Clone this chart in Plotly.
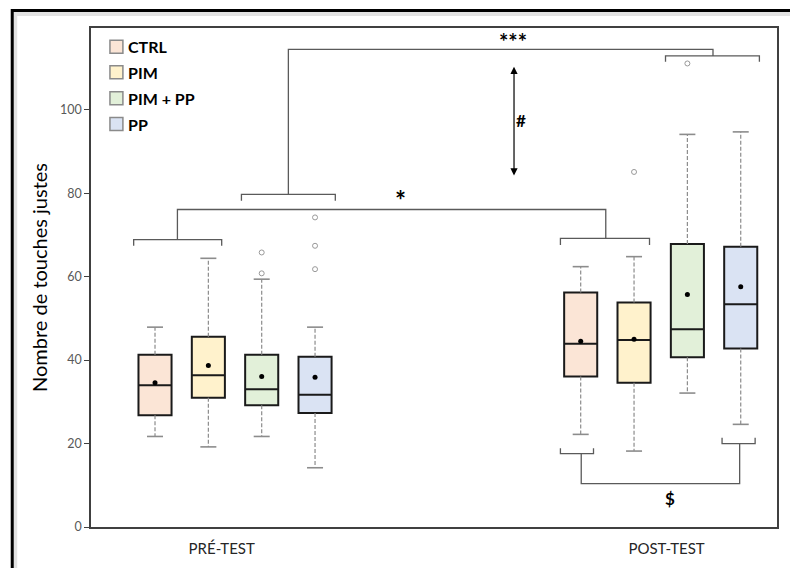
import plotly.graph_objects as go

# ---------------- data ----------------
groups = ["CTRL", "PIM", "PIM + PP", "PP"]
phases = ["PRÉ-TEST", "POST-TEST"]

# per group: [pre, post]
lower_whisker = [[21.7, 22.2], [19.2, 18.2], [21.7, 32.1], [14.2, 24.6]]
q1_values     = [[26.8, 36.1], [31.0, 34.6], [29.2, 40.7], [27.3, 42.8]]
median_values = [[34.0, 43.9], [36.4, 44.8], [33.0, 47.4], [31.7, 53.4]]
q3_values     = [[41.3, 56.2], [45.6, 53.8], [41.3, 67.8], [40.8, 67.2]]
upper_whisker = [[47.9, 62.4], [64.4, 64.8], [59.4, 94.1], [47.9, 94.7]]
mean_values   = [[34.6, 44.5], [38.7, 45.0], [36.1, 55.7], [35.9, 57.6]]
outliers      = [[[], []], [[], [85.1]], [[60.8, 65.8], [111.1]], [[61.8, 67.4, 74.2], []]]

y_ticks = [0, 20, 40, 60, 80, 100]
sig_labels = ["*", "***", "#", "$"]

# ---------------- layout / style ----------------
fills = ["#FBE5D6", "#FFF2CC", "#E2F0D9", "#DAE3F3"]
box_pos = [[1.2, 9.18], [2.2, 10.18], [3.2, 11.18], [4.2, 12.18]]
phase_pos = [2.45, 10.79]
box_w = 0.62
cap_w = 0.30
X_RANGE = [0, 12.86]
Y_RANGE = [0, 119.6]
FONT = "Lato, 'Open Sans', sans-serif"
BR = "#5a5a5a"

fig = go.Figure()

for g in range(len(groups)):
    xs = box_pos[g]
    fig.add_trace(go.Box(
        x=xs, q1=q1_values[g], median=median_values[g], q3=q3_values[g],
        lowerfence=q1_values[g], upperfence=q3_values[g],
        width=box_w, whiskerwidth=0, boxpoints=False,
        fillcolor=fills[g], line=dict(color="#1a1a1a", width=2),
        name=groups[g], showlegend=False, hoverinfo="skip"))
    # dashed whiskers
    wx, wy = [], []
    cx, cy = [], []
    for p in range(2):
        x = xs[p]
        wx += [x, x, None, x, x, None]
        wy += [q1_values[g][p], lower_whisker[g][p], None,
               q3_values[g][p], upper_whisker[g][p], None]
        for v in (lower_whisker[g][p], upper_whisker[g][p]):
            cx += [x - cap_w / 2, x + cap_w / 2, None]
            cy += [v, v, None]
    fig.add_trace(go.Scatter(x=wx, y=wy, mode="lines",
                             line=dict(color="#8c8c8c", width=1.2, dash="4px,2px"),
                             showlegend=False, hoverinfo="skip"))
    fig.add_trace(go.Scatter(x=cx, y=cy, mode="lines",
                             line=dict(color="#8c8c8c", width=1.6),
                             showlegend=False, hoverinfo="skip"))
    # means
    fig.add_trace(go.Scatter(x=xs, y=mean_values[g], mode="markers",
                             marker=dict(color="black", size=5),
                             showlegend=False, hoverinfo="skip"))
    # outliers
    ox, oy = [], []
    for p in range(2):
        for v in outliers[g][p]:
            ox.append(xs[p]); oy.append(v)
    if ox:
        fig.add_trace(go.Scatter(x=ox, y=oy, mode="markers",
                                 marker=dict(symbol="circle-open", color="#999999",
                                             size=5, line=dict(width=1)),
                                 showlegend=False, hoverinfo="skip"))

# ---------------- significance brackets ----------------
segments = [
    # pre bracket (CTRL..PIM) and post bracket (CTRL..PIM)
    ([0.80, 0.80, 2.45, 2.45], [67.4, 68.9, 68.9, 67.4]),
    ([8.80, 8.80, 10.47, 10.47], [67.6, 69.2, 69.2, 67.6]),
    ([1.62, 1.62, 9.65, 9.65], [68.9, 76.1, 76.1, 69.2]),
    # upper bracket (pre PIM+PP..PP) -> post (PIM+PP..PP)
    ([2.82, 2.82, 4.58, 4.58], [78.2, 79.7, 79.7, 78.2]),
    ([10.77, 10.77, 12.53, 12.53], [111.5, 112.9, 112.9, 111.5]),
    ([3.70, 3.70, 11.66, 11.66], [79.7, 114.5, 114.5, 112.9]),
    # bottom $ bracket
    ([8.80, 8.80, 9.42, 9.42], [18.9, 17.6, 17.6, 18.9]),
    ([11.83, 11.83, 12.45, 12.45], [21.4, 20.0, 20.0, 21.4]),
    ([9.19, 9.19, 12.16, 12.16], [17.6, 10.4, 10.4, 20.0]),
]
for sx, sy in segments:
    fig.add_trace(go.Scatter(x=sx, y=sy, mode="lines",
                             line=dict(color=BR, width=1.3),
                             showlegend=False, hoverinfo="skip"))

annotations = []
annotations.append(dict(x=5.81, y=76.1, xref="x", yref="y", text="<b>*</b>",
                        showarrow=False, yanchor="bottom", yshift=-9,
                        font=dict(family=FONT, size=26, color="black")))
annotations.append(dict(x=7.92, y=114.5, xref="x", yref="y", text="<b>***</b>",
                        showarrow=False, yanchor="bottom", yshift=-8,
                        font=dict(family=FONT, size=22, color="black")))
annotations.append(dict(x=8.07, y=97.5, xref="x", yref="y", text="<b>#</b>",
                        showarrow=False, font=dict(family=FONT, size=17, color="black")))
annotations.append(dict(x=10.85, y=6.8, xref="x", yref="y", text="<b>$</b>",
                        showarrow=False, font=dict(family=FONT, size=17, color="black")))
# double arrow
annotations.append(dict(x=7.93, y=110.3, ax=7.93, ay=83.9, xref="x", yref="y",
                        axref="x", ayref="y", text="", showarrow=True,
                        arrowside="end+start", arrowhead=2, arrowsize=1.2,
                        arrowwidth=1.2, arrowcolor="black"))

# ---------------- manual legend ----------------
shapes = []
PX_W, PX_H, TOP, BOTTOM, LEFT = 688.0, 498.7, 28.0, 526.7, 91.0
def px_x(px):
    return (px - LEFT) / PX_W
def px_y(py):
    return (BOTTOM - py) / PX_H

leg_centers = [46.7, 72.3, 98.3, 124.0]
for g in range(len(groups)):
    c = leg_centers[g]
    shapes.append(dict(type="rect", xref="paper", yref="paper",
                       x0=px_x(110), x1=px_x(123), y0=px_y(c + 6.5), y1=px_y(c - 6.5),
                       fillcolor=fills[g], line=dict(color="#8a8a8a", width=1.5)))
    annotations.append(dict(x=px_x(126), y=px_y(c), xref="paper", yref="paper",
                            xanchor="left", yanchor="middle", showarrow=False,
                            text="<b>%s</b>" % groups[g],
                            font=dict(family=FONT, size=16, color="black")))

# outer border with shadow
shapes.append(dict(type="line", xref="paper", yref="paper",
                   x0=px_x(15), x1=px_x(15), y0=px_y(580), y1=px_y(12),
                   line=dict(color="#e2e2e2", width=4)))
shapes.append(dict(type="line", xref="paper", yref="paper",
                   x0=px_x(13), x1=px_x(800), y0=px_y(14), y1=px_y(14),
                   line=dict(color="#e2e2e2", width=4)))
shapes.append(dict(type="rect", xref="paper", yref="paper",
                   x0=px_x(12), x1=px_x(800), y0=px_y(590), y1=px_y(10.5),
                   line=dict(color="black", width=3)))

fig.update_layout(
    width=790, height=568,
    margin=dict(l=91, r=11, t=28, b=41.3),
    paper_bgcolor="white", plot_bgcolor="white",
    showlegend=False,
    shapes=shapes, annotations=annotations,
    xaxis=dict(range=X_RANGE, tickmode="array", tickvals=phase_pos, ticktext=phases,
               showgrid=False, zeroline=False, showline=True, mirror=True,
               linecolor="#404040", linewidth=1.5, ticks="",
               ticklabelstandoff=7,
               tickfont=dict(family=FONT, size=15, color="#262626")),
    yaxis=dict(range=Y_RANGE, tickmode="array", tickvals=y_ticks,
               showgrid=False, zeroline=False, showline=True, mirror=True,
               linecolor="#404040", linewidth=1.5, ticks="outside", ticklen=5,
               tickcolor="#404040",
               tickfont=dict(family=FONT, size=12.5, color="#595959"),
               title=dict(text="Nombre de touches justes", standoff=7,
                          font=dict(family=FONT, size=20, color="black"))),
)

fig.write_html("out.html", config={"displayModeBar": False},
               post_script="document.body.style.margin='0';document.body.style.overflow='hidden';")
